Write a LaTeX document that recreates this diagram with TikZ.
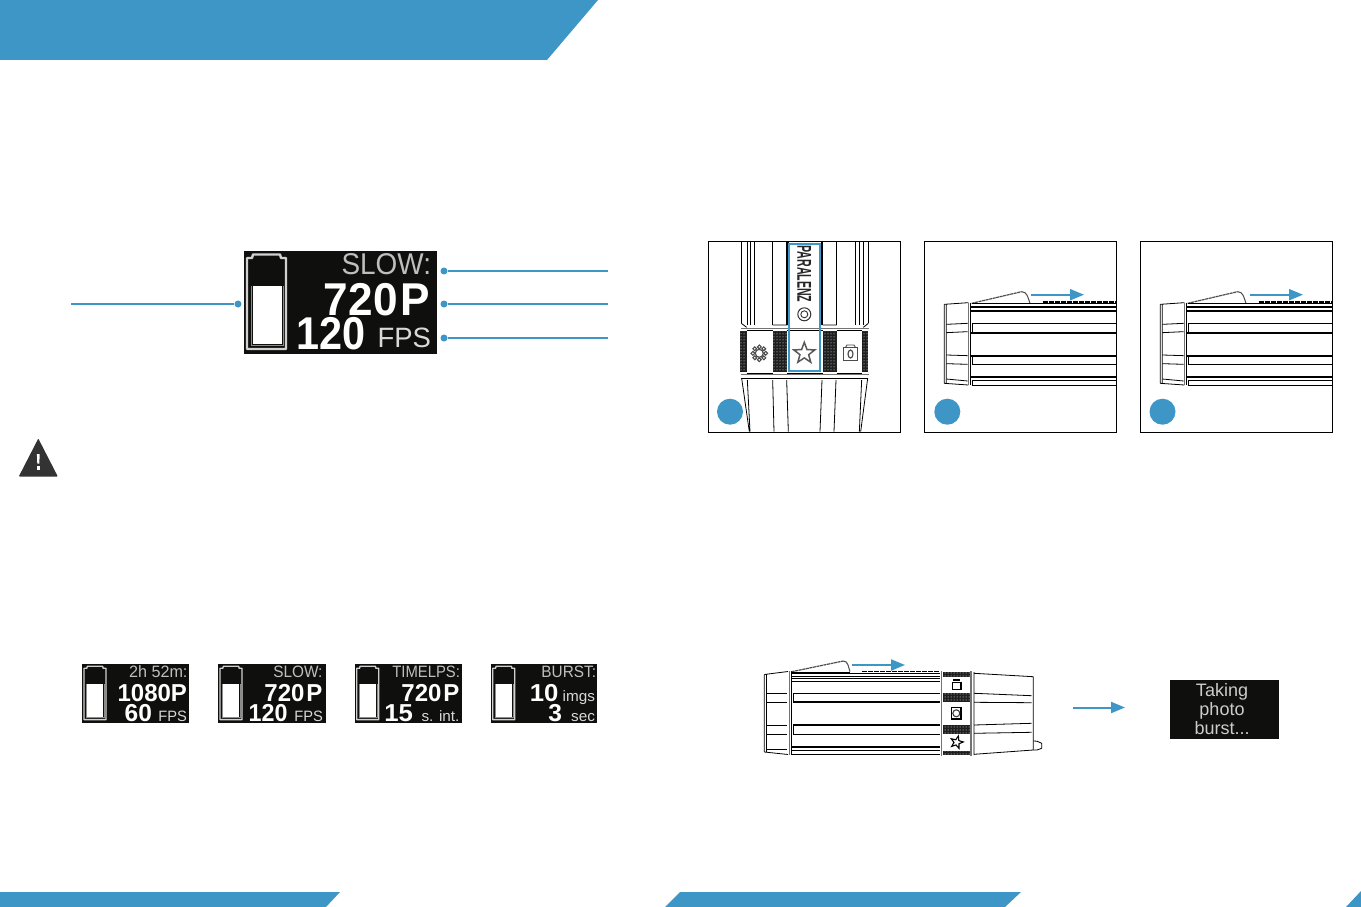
\documentclass[tikz,border=0pt]{standalone}
\usepackage{fontspec}
\usepackage{graphicx}
\setmainfont{Liberation Sans}
\usetikzlibrary{patterns,shapes.geometric,arrows.meta}
\definecolor{brand}{HTML}{3D96C6}
\definecolor{oled}{HTML}{0F0F0D}
\definecolor{warn}{HTML}{333333}
\tikzset{
  banner/.style={fill=brand,draw=none},
  frame/.style={draw=black,line width=1pt,fill=white},
  badge/.style={circle,fill=brand,draw=none,minimum size=26pt,inner sep=0},
  leader/.style={draw=brand,line width=1.3pt},
  pin/.style={circle,fill=brand,draw=none,minimum size=7pt,inner sep=0},
  go/.style={draw=brand,line width=2pt,-{Triangle[length=14pt,width=11pt]}},
  ink/.style={draw=black,line width=.8pt},
  inkb/.style={draw=black,line width=1.9pt},
  inkg/.style={draw=black!55,line width=1pt},
  screen/.style={fill=oled,draw=none},
  txt/.style={inner sep=0,outer sep=0,anchor=base east},
}
\newcommand{\dt}[7]{\node[txt,text=#6] (#1) at (#2) {\fontsize{#3}{#3}\selectfont\scalebox{#4}[1]{#5#7}};}
\newcommand{\batt}[3]{%
  \begin{scope}[shift={(#1,#2)},scale=#3]
    \draw[draw=black!18,line width=#3*2.4pt,line join=round] (3,98) -- (3,7) -- (8,7) -- (9,3.5) -- (36,3.5) -- (37,7) -- (42,7) -- (42,98) -- cycle;
    \fill[white] (8.5,34.5) rectangle (37.5,92.5);
    \draw[draw=black!45,line width=#3*.8pt] (7,34.5) -- (7,94) -- (39,94) -- (39,34.5);
  \end{scope}}
\newcommand{\knurl}[4]{%
  \fill[black!88] (#1,#2) rectangle (#3,#4);
  \fill[pattern=dots,pattern color=white] (#1,#2) rectangle (#3,#4);}
\newcommand{\sideview}[2]{%
  \begin{scope}[shift={(#1,235)},scale=1/3]
    % cap
    \draw[ink] (73,208) -- (145,203) (73,445) -- (145,450) (73,208) -- (73,445) (79,208) -- (79,445);
    \draw[inkg,line width=1.5pt] (146,203) -- (146,450);
    \draw[ink] (152,203) -- (152,450);
    \draw[ink] (79,268) -- (143,265) (79,293) -- (143,290) (79,360) -- (143,362) (79,386) -- (143,388) (79,432) -- (143,438);
    % hat
    \draw[draw=black!70,line width=1.2pt,dash pattern=on 3pt off .6pt] (155,205) -- (305,170);
    \draw[draw=black!70,line width=1pt] (305,170) to[out=0,in=110] (330,205);
    \draw[inkb,dash pattern=on 5pt off 1pt] (368,202) -- (#2,202);
    % body
    \draw[ink] (155,205) -- (#2,205) (152,225) -- (#2,225) (152,230) -- (#2,230) (156,265) -- (#2,265) (156,265) -- (156,293) (156,362) -- (156,388) (156,388) -- (#2,388) (156,435) -- (#2,435) (156,451) -- (#2,451) (156,435) -- (156,451);
    \draw[inkb] (152,215) -- (#2,215) (152,293) -- (#2,293) (152,362) -- (#2,362) (152,425) -- (#2,425);
  \end{scope}}
\begin{document}
\begin{tikzpicture}[x=1pt,y=-1pt]
\useasboundingbox (0,0) rectangle (1361,907);
\fill[white] (0,0) rectangle (1361,907);
% banners
\fill[banner] (0,0) -- (598,0) -- (547,60) -- (0,60) -- cycle;
\fill[banner] (0,892) -- (340,892) -- (326,907) -- (0,907) -- cycle;
\fill[banner] (680,892) -- (1021,892) -- (1005,907) -- (665,907) -- cycle;
\fill[banner] (1361,891) -- (1361,907) -- (1346,907) -- cycle;
% warning
\fill[warn,rounded corners=.8pt] (38.3,438.5) -- (57.8,476.5) -- (18.8,476.5) -- cycle;
\fill[white] (36.9,454) -- (39.7,454) -- (39.3,463.5) -- (37.3,463.5) -- cycle;
\fill[white] (36.9,466) rectangle (39.7,470);
% main display
\fill[screen] (244,251) rectangle (436.7,354);
\batt{244}{251}{1}
\dt{mslow}{431,274}{30}{.93}{}{black!25}{SLOW:}
\dt{mres}{430,315}{46}{.96}{\bfseries}{white}{720\hspace{3pt}P}
\dt{mfps}{431,347.5}{28}{.98}{}{black!15}{FPS}
\dt{mrate}{366,349}{46}{.9}{\bfseries}{white}{120}
\node[pin] (pa) at (238,304) {};
\node[pin] (pb) at (444,271) {};
\node[pin] (pc) at (444,304) {};
\node[pin] (pd) at (444,338) {};
\coordinate (la) at (71,304);
\coordinate (lb) at (608,271);
\coordinate (lc) at (608,304);
\coordinate (ld) at (608,338);
\draw[leader] (la) -- (pa);
\draw[leader] (pb) -- (lb);
\draw[leader] (pc) -- (lc);
\draw[leader] (pd) -- (ld);
% small displays
\fill[screen] (82.3,664.3) rectangle (189.3,722.7);
\batt{82.3}{664.3}{.565}
\dt{aa}{187.5,677.7}{16.5}{.98}{}{black!25}{2h 52m:}
\dt{ab}{187,701}{24.5}{.98}{\bfseries}{white}{1080P}
\dt{ac}{187,721}{15}{.98}{}{black!15}{FPS}
\dt{ad}{152,721}{24.5}{1}{\bfseries}{white}{60}
\fill[screen] (218.3,664.3) rectangle (325.7,722.7);
\batt{218.3}{664.3}{.565}
\dt{ba}{322.5,677.7}{16.5}{.93}{}{black!25}{SLOW:}
\dt{bb}{322.5,701}{24.5}{.98}{\bfseries}{white}{720\hspace{2pt}P}
\dt{bc}{323,721}{15}{.98}{}{black!15}{FPS}
\dt{bd}{287.5,721}{24.5}{.95}{\bfseries}{white}{120}
\fill[screen] (355,664.3) rectangle (462.3,722.7);
\batt{355}{664.3}{.565}
\dt{ca}{460,677.7}{16.5}{.9}{}{black!25}{TIMELPS:}
\dt{cb}{459.5,701}{24.5}{.98}{\bfseries}{white}{720\hspace{2pt}P}
\dt{cc}{459.5,721}{15}{1.02}{}{black!15}{s. int.}
\dt{cd}{413,721}{24.5}{1.05}{\bfseries}{white}{15}
\fill[screen] (491,664.3) rectangle (597.3,722.7);
\batt{491}{664.3}{.565}
\dt{da}{596,677.7}{16.5}{.93}{}{black!25}{BURST:}
\dt{db}{558.5,701}{24.5}{1.05}{\bfseries}{white}{10}
\dt{dc}{595,701}{15}{1.02}{}{black!15}{imgs}
\dt{dd}{562,721}{24.5}{1}{\bfseries}{white}{3}
\dt{de}{595,721}{15}{1.02}{}{black!15}{sec}
% panel 1
\draw[frame] (708.3,241.7) rectangle (900.7,432.3);
\begin{scope}[shift={(700,235)},scale=1/3]
  \draw[ink] (124,22) -- (124,265) (143,22) -- (143,270) (151,22) -- (151,270) (162,22) -- (162,270) (218,22) -- (218,270) (410,22) -- (410,270) (467,22) -- (467,270) (478,22) -- (478,270) (490,22) -- (490,270) (505,22) -- (505,265);
  \draw[ink] (124,265) -- (140,277) (218,270) -- (262,270) (368,270) -- (410,270) (505,265) -- (490,277);
  \draw[draw=black,line width=2.5pt] (263,22) -- (263,270) (366,22) -- (366,270);
  \draw[inkg,line width=1.6pt] (122,281) -- (506,281);
  \draw[inkg,line width=1.2pt] (122,418) -- (506,418);
  \knurl{120}{288}{140}{412}
  \knurl{218}{288}{262}{412}
  \knurl{370}{288}{410}{412}
  \knurl{487}{288}{505}{412}
  \draw[ink,rounded corners=4pt] (140,285) -- (218,285) (140,415) -- (218,415) (262,285) -- (370,285) (262,415) -- (370,415) (410,285) -- (487,285) (410,415) -- (487,415);
  \draw[ink] (122,430) -- (503,430);
  \draw[ink] (125,430) -- (148,590) (142,435) -- (150,590) (218,435) -- (222,590) (260,435) -- (265,590) (366,435) -- (360,590) (408,435) -- (402,590) (485,435) -- (478,590) (503,430) -- (482,590);
\end{scope}
\node[inner sep=0,rotate=-90,text=black!85] (brandname) at (804.3,274) {\fontsize{20}{20}\selectfont\scalebox{.53}[1]{\bfseries PARALENZ}};
\node[circle,draw=black!80,line width=1pt,minimum size=13pt,inner sep=0] (lensa) at (804.3,314.3) {};
\node[circle,draw=black!80,line width=.9pt,minimum size=7pt,inner sep=0] (lensb) at (804.3,314.3) {};
% gear
\node[circle,draw=black!70,line width=1.2pt,minimum size=8pt,inner sep=0] (gearhub) at (759.3,353.3) {};
\foreach \a in {0,45,...,315} \draw[draw=black!70,line width=1.1pt] (759.3,353.3) ++(\a:6.4) circle (1.9);
% star
\node[star,star points=5,star point ratio=2.4,draw=black!65,line width=1.5pt,minimum size=22pt,inner sep=0] (favstar) at (804.3,353.3) {};
% camera
\draw[draw=black!70,line width=1.4pt] (843.5,347.5) rectangle (857.5,360.5);
\draw[draw=black!70,line width=.9pt] (845.5,347.5) -- (847,345) -- (854,345) -- (855.5,347.5);
\node[ellipse,draw=black!70,line width=1.2pt,minimum width=5pt,minimum height=8pt,inner sep=0] (camlens) at (850.5,354) {};
\draw[draw=brand,line width=1.8pt] (788.7,244) rectangle (820,371);
\node[badge] (n1) at (730,411.7) {};
% panel 2
\draw[frame] (924.3,241.7) rectangle (1116,432.3);
\sideview{920}{588}
\node[badge] (n2) at (947.3,411.7) {};
\coordinate (a2s) at (1031,294.7);
\coordinate (a2e) at (1084,294.7);
\draw[go] (a2s) -- (a2e);
% panel 3
\draw[frame] (1140.5,241.7) rectangle (1332.5,432.3);
\sideview{1136}{588}
\node[badge] (n3) at (1162.5,411.7) {};
\coordinate (a3s) at (1250,294.7);
\coordinate (a3e) at (1303,294.7);
\draw[go] (a3s) -- (a3e);
% bottom device
\draw[ink] (764.3,674.5) -- (788,671.5) (764.3,752) -- (788,754.5) (764.3,674.5) -- (764.3,752) (766.5,674.5) -- (766.5,752);
\draw[ink] (767,693.3) -- (787,693.3) (767,702.3) -- (787,702.3) (767,725.3) -- (787,725.3) (767,734.3) -- (787,734.3) (767,749.5) -- (787,749.5);
\draw[inkg,line width=1.5pt] (789.5,671) -- (789.5,755);
\draw[ink] (791.7,671) -- (791.7,755);
\draw[draw=black!70,line width=1.2pt,dash pattern=on 3pt off .6pt] (791.7,671.7) -- (843.3,661);
\draw[draw=black!70,line width=1pt] (843.3,661) to[out=0,in=110] (850,671.7);
\draw[inkb,dash pattern=on 5pt off 1pt] (862.3,671.5) -- (940,671.5);
\draw[inkb] (792,673) -- (850,673);
\draw[ink] (850,673) -- (940,673) (792,676.7) -- (940,676.7) (792,678.5) -- (940,678.5) (792,681) -- (940,681) (792,750) -- (940,750) (792,754.3) -- (940,754.3);
\draw[ink] (793,693.3) -- (940,693.3) (793,693.3) -- (793,702.3) (793,725.3) -- (793,734.3) (793,734.3) -- (940,734.3);
\draw[inkb] (793,702.3) -- (940,702.3) (793,725.3) -- (940,725.3) (792,746.7) -- (940,746.7);
\draw[inkg,line width=1.5pt] (941.7,671) -- (941.7,755.5) (971,671) -- (971,755.5);
\knurl{943.3}{672.3}{970}{676.7}
\knurl{943.3}{693.3}{970}{702.3}
\knurl{943.3}{725}{970}{734.3}
\knurl{943.3}{750.7}{970}{755}
\draw[ink] (974,673.3) -- (1033.3,676.7) (974,754.3) -- (1033.3,750) (1033.3,676.7) -- (1033.3,750) (974,672) -- (974,755);
\draw[ink] (974,693.3) -- (1031.7,695.7) (974,702.3) -- (1031.7,702.7) (974,725) -- (1031.7,723.3) (974,733.3) -- (1031.7,732.3);
\draw[ink] (1033.3,741) -- (1037,741.2) -- (1041.7,743.3) -- (1041.7,748.3) -- (1037,750) -- (1033.3,750);
\draw[draw=black,line width=1.1pt] (952.3,682.3) rectangle (961,689.3);
\draw[draw=black,line width=1.1pt] (953.3,680) -- (960,680);
\draw[draw=black,line width=1.5pt] (951.7,707.3) rectangle (961,719);
\node[circle,draw=black!75,line width=1.1pt,minimum size=7pt,inner sep=0] (blens) at (956.3,713.3) {};
\node[star,star points=5,star point ratio=2.4,draw=black,line width=1.1pt,minimum size=13pt,inner sep=0,rotate=-15] (bstar) at (956.7,742.3) {};
\coordinate (a4s) at (852,665);
\coordinate (a4e) at (905,665);
\draw[go] (a4s) -- (a4e);
\coordinate (a5s) at (1073,707.5);
\coordinate (a5e) at (1125,707.5);
\draw[go] (a5s) -- (a5e);
\fill[screen] (1170,680) rectangle (1279,739);
\node[inner sep=0,text=black!20,align=center,font=\fontsize{18}{19}\selectfont] (burst) at (1222,709.5) {Taking\\photo\\burst...};
\end{tikzpicture}
\end{document}
